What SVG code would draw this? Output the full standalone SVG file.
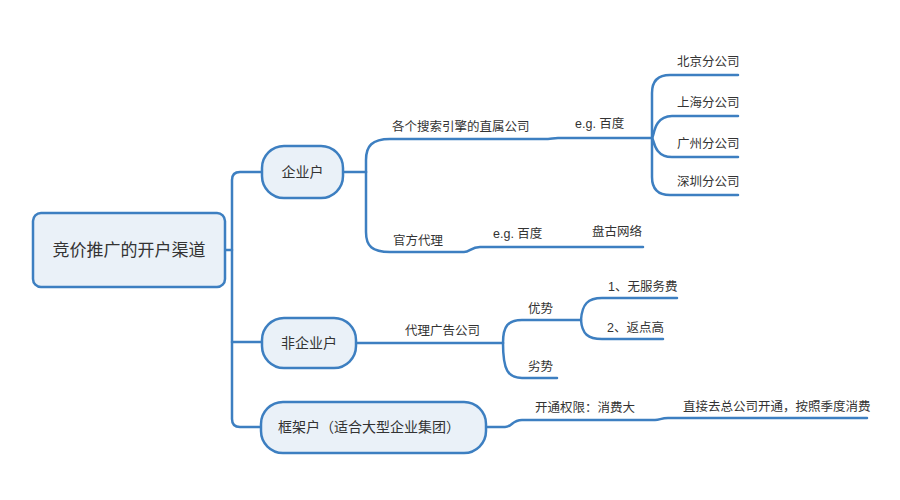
<svg xmlns="http://www.w3.org/2000/svg" width="900" height="500" viewBox="0 0 900 500">
<style>
text{font-family:"Liberation Sans","Noto Sans CJK SC",sans-serif;fill:#333}
.box{fill:#eaf1f8;stroke:#3d7fc1;stroke-width:2.5}
.c{fill:none;stroke:#3d7fc1;stroke-width:2.5;stroke-linecap:round}
.s{font-size:12.5px}
.m{font-size:14px}
</style>
<rect width="900" height="500" fill="#fff"/>
<g id="connectors">
<path class="c" d="M225,250 H232"/>
<path class="c" d="M262,172 H240 Q232,172 232,180 V419 Q232,427 240,427 H261"/>
<path class="c" d="M232,342 H262"/>
<path class="c" d="M343,172 H366"/>
<path class="c" d="M366,172 V160 C366,146 372,139 390,139 H548 C552,139 553,138 558,138 H652"/>
<path class="c" d="M366,172 V232 C366,246 372,252 390,252 H464 C470,252 471,247 480,247 H643"/>
<path class="c" d="M652,138 V93 Q652,75 670,75 H738"/>
<path class="c" d="M652,138 C654,138 653,116 672,116 H738"/>
<path class="c" d="M652,138 C654,138 653,157 672,157 H738"/>
<path class="c" d="M652,138 V177 Q652,195 670,195 H738"/>
<path class="c" d="M356,343 H503"/>
<path class="c" d="M503,343 C503,326 508,320 522,320 H581"/>
<path class="c" d="M503,343 C503,370 508,378 522,378 H557"/>
<path class="c" d="M581,320 C582,304 588,298 602,298 H677"/>
<path class="c" d="M581,320 C582,334 588,339 602,339 H663"/>
<path class="c" d="M486,427 H505 C512,427 512,420 522,420 H655 C660,420 661,418 668,418 H867"/>
</g>
<g id="root">
<rect class="box" x="33" y="213" width="192" height="74" rx="8"/>
<text x="129" y="256" font-size="17" text-anchor="middle">竞价推广的开户渠道</text>
</g>
<g id="n-enterprise">
<rect class="box" x="262" y="146" width="81" height="52" rx="22"/>
<text class="m" x="302.5" y="177" text-anchor="middle">企业户</text>
</g>
<g id="n-nonenterprise">
<rect class="box" x="262" y="318" width="94" height="50" rx="22"/>
<text class="m" x="309" y="348" text-anchor="middle">非企业户</text>
</g>
<g id="n-frame">
<rect class="box" x="261" y="402" width="225" height="51" rx="22"/>
<text class="m" x="278" y="432">框架户（适合大型企业集团）</text>
</g>
<g id="l-direct"><text class="s" x="392" y="131">各个搜索引擎的直属公司</text></g>
<g id="l-eg1"><text class="s" x="575" y="128">e.g. 百度</text></g>
<g id="l-bj"><text class="s" x="677" y="66">北京分公司</text></g>
<g id="l-sh"><text class="s" x="677" y="107">上海分公司</text></g>
<g id="l-gz"><text class="s" x="677" y="148">广州分公司</text></g>
<g id="l-sz"><text class="s" x="677" y="186">深圳分公司</text></g>
<g id="l-official"><text class="s" x="393" y="245">官方代理</text></g>
<g id="l-eg2"><text class="s" x="493" y="238">e.g. 百度</text></g>
<g id="l-pangu"><text class="s" x="592" y="236">盘古网络</text></g>
<g id="l-agency"><text class="s" x="405" y="335">代理广告公司</text></g>
<g id="l-adv"><text class="s" x="528" y="313">优势</text></g>
<g id="l-disadv"><text class="s" x="528" y="371">劣势</text></g>
<g id="l-adv1"><text class="s" x="608" y="291">1、无服务费</text></g>
<g id="l-adv2"><text class="s" x="607" y="332">2、返点高</text></g>
<g id="l-perm"><text class="s" x="535" y="412">开通权限：消费大</text></g>
<g id="l-hq"><text class="s" x="683" y="411">直接去总公司开通，按照季度消费</text></g>
</svg>
